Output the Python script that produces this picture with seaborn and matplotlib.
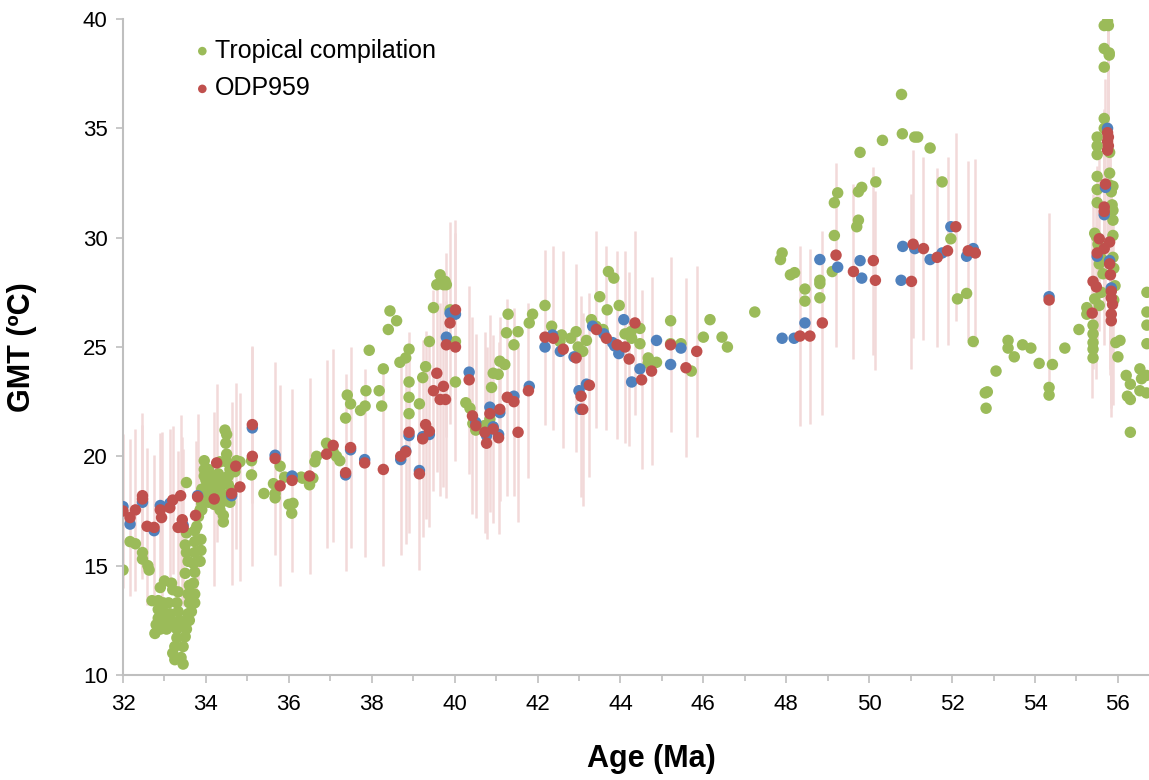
import matplotlib.pyplot as plt
import numpy as np
import seaborn as sb
from matplotlib.ticker import MultipleLocator

# Tropical compilation (green)
trop_age = [
    32.0, 32.17, 32.3, 32.47, 32.47, 32.6, 32.63,
    33.0, 33.17, 32.9, 33.2, 33.33, 32.7, 32.85, 32.97, 33.1, 33.3,
    32.85, 32.97, 33.13, 33.33, 32.85, 33.0, 33.17, 33.37,
    32.8, 32.93, 33.1, 33.25, 33.4, 32.77, 32.9, 33.05, 33.3, 33.53,
    33.3, 33.5, 33.25, 33.45, 33.2, 33.4, 33.25, 33.45,
    33.53, 33.73, 33.5, 33.73, 33.53, 33.73, 33.57, 33.7, 33.5, 33.73,
    33.6, 33.7, 33.57, 33.73, 33.6, 33.73, 33.57, 33.65, 33.53, 33.6, 33.53,
    33.96, 33.96, 33.96, 33.9, 33.98, 33.9, 33.9, 33.82, 33.78, 33.88, 33.88, 33.86,
    34.46, 34.5, 34.48, 34.5, 34.34, 34.5, 34.58, 34.74, 34.82,
    34.06, 34.14, 34.3, 34.38, 34.54, 34.7,
    34.0, 34.06, 34.2, 34.34, 34.54, 34.62,
    33.94, 34.14, 34.3, 34.42, 34.58,
    33.9, 34.06, 34.2, 34.38, 34.58,
    33.86, 34.34, 34.42, 34.42,
    35.1, 35.1, 35.4, 35.63, 35.79, 35.9, 35.67, 35.67, 36.0, 36.1, 36.07, 36.3,
    36.33, 36.5, 36.58, 36.63, 36.67, 36.91, 36.95, 37.07, 37.15, 37.23,
    37.37, 37.41, 37.49, 37.73, 37.84, 37.86, 37.94, 38.18, 38.24, 38.28,
    38.4, 38.44, 38.6, 38.68, 38.82, 38.9, 38.9, 38.9, 38.9, 39.15,
    39.23, 39.3, 39.39, 39.49, 39.57, 39.65, 39.73, 39.77, 39.8, 39.89,
    40.02, 40.02, 40.27, 40.37, 40.44, 40.51, 40.71, 40.85, 40.89, 40.93,
    41.05, 41.09, 41.21, 41.25, 41.29, 41.43, 41.53,
    41.8, 41.88, 42.18, 42.34, 42.58, 42.54, 42.8, 42.93, 42.98, 43.09,
    43.18, 43.3, 43.41, 43.58, 43.5, 43.68, 43.71, 43.84, 43.97, 44.11,
    44.25, 44.27, 44.47, 44.47, 44.67, 44.67, 44.87, 45.21, 45.21, 45.46,
    45.71, 46.0, 46.16, 46.45, 46.58, 47.24,
    47.86, 47.9, 48.1, 48.2, 48.45, 48.45, 48.81, 48.81, 48.81, 49.11,
    49.16, 49.16, 49.24, 49.7, 49.74, 49.74, 49.82, 49.78, 50.16, 50.32,
    50.78, 50.8, 51.1, 51.17, 51.47, 51.76, 51.97, 52.13, 52.35, 52.51,
    52.8, 52.85, 52.82, 53.06, 53.35, 53.35, 53.5, 53.7, 53.9, 54.1,
    54.34, 54.34, 54.42, 54.72, 55.06, 55.25, 55.25,
    55.4, 55.4, 55.4, 55.4, 55.4, 55.44, 55.44, 55.48, 55.5, 55.5,
    55.5, 55.5, 55.5, 55.5, 55.64, 55.6, 55.67, 55.67, 55.67, 55.67,
    55.79, 55.79, 55.67, 55.75, 55.77, 55.8, 55.8, 55.8, 55.84, 55.88,
    55.86, 55.88, 55.88, 55.88, 55.88, 55.9, 55.95, 56.05, 56.0,
    55.52, 55.55, 55.9, 55.93, 55.6, 55.55,
    56.2, 56.3, 56.23, 56.3, 56.3, 56.53, 56.57, 56.69, 56.69, 56.53,
    56.7, 56.7, 56.7, 56.7,
]
trop_gmt = [
    14.8, 16.1, 16.0, 15.6, 15.3, 15.0, 14.8,
    14.3, 14.2, 14.0, 13.9, 13.8, 13.4, 13.4, 13.3, 13.3, 13.3,
    13.0, 12.9, 12.8, 12.9, 12.6, 12.5, 12.5, 12.5,
    12.3, 12.2, 12.3, 12.2, 12.4, 11.9, 12.1, 12.1, 12.1, 12.1,
    11.7, 11.75, 11.3, 11.3, 11.0, 10.8, 10.7, 10.5,
    16.5, 16.6, 15.95, 16.1, 15.6, 15.6, 15.2, 15.1, 14.65, 14.7,
    14.1, 14.2, 13.7, 13.7, 13.3, 13.3, 12.8, 12.9, 12.4, 12.5, 18.8,
    19.8, 19.4, 19.1, 18.5, 18.15, 17.85, 17.55, 17.25, 16.8, 16.2, 15.7, 15.2,
    21.2, 21.0, 20.6, 20.1, 19.75, 19.75, 19.4, 19.8, 19.75,
    19.4, 19.15, 19.2, 19.0, 19.1, 19.3,
    18.9, 18.7, 18.85, 18.6, 18.7, 18.45,
    18.45, 18.4, 18.3, 18.25, 18.15,
    18.0, 17.9, 17.8, 17.9, 17.9,
    17.55, 17.55, 17.3, 17.0,
    19.8, 19.15, 18.3, 18.75, 19.55, 19.05, 18.3, 18.1, 17.8, 17.85, 17.4, 19.05,
    19.0, 18.7, 19.0, 19.75, 20.0, 20.6, 20.5, 20.2, 20.0, 19.8,
    21.75, 22.8, 22.4, 22.1, 22.3, 23.0, 24.85, 23.0, 22.3, 24.0,
    25.8, 26.65, 26.2, 24.3, 24.5, 24.9, 23.4, 22.7, 21.95, 22.4,
    23.6, 24.1, 25.25, 26.8, 27.85, 28.3, 27.85, 28.0, 27.85, 26.7,
    25.25, 23.4, 22.45, 22.2, 21.5, 21.2, 21.4, 21.7, 23.15, 23.8,
    23.75, 24.35, 24.2, 25.65, 26.5, 25.1, 25.7,
    26.1, 26.5, 26.9, 25.95, 25.55, 25.25, 25.4, 25.7, 25.0, 24.8,
    25.3, 26.25, 25.95, 25.8, 27.3, 26.7, 28.45, 28.15, 26.9, 25.6,
    25.7, 25.4, 25.85, 25.15, 24.5, 24.25, 24.3, 26.2, 25.15, 25.15,
    23.9, 25.45, 26.25, 25.45, 25.0, 26.6,
    29.0, 29.3, 28.3, 28.4, 27.65, 27.1, 28.05, 27.9, 27.25, 28.45,
    30.1, 31.6, 32.05, 30.5, 30.8, 32.1, 32.3, 33.9, 32.55, 34.45,
    36.55, 34.75, 34.6, 34.6, 34.1, 32.55, 29.95, 27.2, 27.45, 25.25,
    22.9, 22.95, 22.2, 23.9, 25.3, 24.95, 24.55, 25.1, 24.95, 24.25,
    23.15, 22.8, 24.2, 24.95, 25.8, 26.8, 26.5,
    26.0, 25.6, 25.2, 24.9, 24.5, 27.2, 30.2, 30.05, 31.6, 32.8,
    32.2, 34.6, 34.2, 33.8, 28.35, 29.05, 35.45, 35.0, 37.8, 38.65,
    38.45, 38.35, 39.7, 39.9, 39.7, 33.9, 32.95, 32.4, 32.1, 32.35,
    31.5, 31.25, 30.8, 30.1, 29.1, 27.15, 25.2, 25.3, 24.55,
    29.7, 28.8, 28.6, 27.8, 27.5, 26.9,
    23.7, 23.3, 22.75, 22.6, 21.1, 24.0, 23.55, 23.7, 22.9, 23.0,
    27.5, 26.6, 26.0, 25.15,
]

# ODP959 (red) with its uncertainty
odp_age = [
    32.0, 32.17, 32.3, 32.47, 32.47, 32.58, 32.75, 32.9, 32.93, 33.13,
    33.2, 33.39, 33.43, 33.33, 33.45, 33.75, 33.8, 34.2, 34.26, 34.62,
    34.72, 34.82, 35.12, 35.12, 35.67, 35.79, 36.08, 36.5, 36.91, 37.07,
    37.37, 37.49, 37.83, 38.28, 38.7, 38.82, 38.9, 39.15, 39.23, 39.3,
    39.39, 39.49, 39.57, 39.65, 39.73, 39.78, 39.8, 39.89, 40.02, 40.02,
    40.35, 40.43, 40.51, 40.73, 40.77, 40.85, 40.93, 41.06, 41.09, 41.27,
    41.43, 41.53, 41.78, 42.18, 42.38, 42.62, 42.93, 43.05, 43.09, 43.25,
    43.42, 43.66, 43.92, 44.11, 44.21, 44.35, 44.51, 44.75, 45.21, 45.58,
    45.84, 48.33, 48.57, 48.87, 49.2, 49.62, 50.1, 50.15, 51.02, 51.06,
    51.31, 51.64, 51.89, 52.09, 52.39, 52.56, 54.34,
    55.75, 55.77, 55.75, 55.77, 55.75, 55.7, 55.67, 55.67, 55.55, 55.8,
    55.67, 55.5, 55.8, 55.82, 55.4, 55.48, 55.84, 55.84, 55.87, 55.38,
    55.84, 55.84,
]
odp_gmt = [
    17.5, 17.2, 17.55, 18.2, 18.05, 16.8, 16.75, 17.55, 17.2, 17.65,
    18.0, 18.2, 17.1, 16.75, 16.75, 17.3, 18.15, 18.05, 19.7, 18.3,
    19.55, 18.6, 21.45, 20.0, 19.9, 18.65, 18.9, 19.1, 20.1, 20.5,
    19.25, 20.4, 19.7, 19.4, 20.0, 20.2, 21.1, 19.2, 20.8, 21.45,
    21.15, 23.0, 23.8, 22.6, 23.2, 22.6, 25.1, 26.1, 26.7, 25.0,
    23.5, 21.85, 21.4, 21.1, 20.6, 21.95, 21.25, 20.85, 22.15, 22.7,
    22.5, 21.1, 23.0, 25.45, 25.4, 24.9, 24.5, 22.75, 22.15, 23.25,
    25.8, 25.4, 25.1, 25.0, 24.45, 26.1, 23.5, 23.9, 25.1, 24.05,
    24.8, 25.5, 25.5, 26.1, 29.2, 28.45, 28.95, 28.05, 28.0, 29.7,
    29.5, 29.1, 29.4, 30.5, 29.4, 29.3, 27.15,
    34.8, 34.6, 34.4, 34.2, 34.0, 32.45, 31.4, 31.2, 29.95, 29.8,
    29.5, 29.3, 28.8, 28.3, 28.0, 27.75, 27.55, 27.25, 26.95, 26.55,
    26.5, 26.2,
]
odp_err = [
    3.5, 3.6, 3.7, 3.8, 3.4, 3.6, 3.3, 3.5, 3.9, 3.6,
    3.4, 3.7, 3.8, 3.5, 3.6, 3.4, 3.8, 4.0, 3.6, 4.2,
    3.8, 4.3, 3.6, 5.0, 4.4, 4.6, 4.2, 4.5, 4.3, 4.4,
    4.5, 4.6, 4.3, 4.4, 4.5, 4.2, 4.6, 4.4, 4.5, 4.3,
    4.4, 4.6, 4.5, 4.4, 4.6, 4.5, 4.2, 4.6, 4.1, 5.2,
    4.3, 4.5, 4.2, 4.6, 4.4, 4.5, 4.3, 4.4, 4.2, 4.5,
    4.3, 4.1, 4.0, 4.0, 4.2, 4.5, 4.3, 4.6, 4.4, 4.2,
    4.5, 4.2, 4.3, 4.4, 4.0, 4.2, 4.1, 4.3, 4.0, 4.1,
    3.9, 4.1, 4.0, 4.2, 4.2, 4.0, 4.3, 4.1, 4.0, 4.3,
    4.2, 4.1, 4.3, 4.3, 4.1, 4.3, 4.0,
    5.5, 5.3, 5.6, 5.2, 5.8, 4.8, 4.5, 4.6, 4.2, 5.0,
    4.4, 4.0, 4.8, 4.6, 4.0, 4.2, 4.5, 4.8, 4.6, 3.9,
    4.3, 4.4,
]

# ODP959 alternative (blue, not in legend)
alt_age = [
    32.0, 32.17, 32.47, 32.75, 32.9, 33.13, 33.45, 33.8, 34.62, 35.12,
    35.67, 36.08, 37.37, 37.49, 37.83, 38.7, 38.82, 38.9, 39.15, 39.23,
    39.39, 39.8, 39.89, 40.02, 40.35, 40.51, 40.77, 40.85, 40.93, 41.06,
    41.09, 41.43, 41.8, 42.18, 42.36, 42.55, 42.88, 43.0, 43.03, 43.18,
    43.33, 43.6, 43.81, 43.86, 43.96, 44.08, 44.27, 44.47, 44.87, 45.21,
    45.46, 47.9, 48.19, 48.45, 48.81, 49.24, 49.78, 49.82, 50.77, 50.81,
    51.1, 51.47, 51.76, 51.97, 52.35, 52.51, 54.34,
    55.75, 55.7, 55.67, 55.5, 55.8, 55.84,
]
alt_gmt = [
    17.7, 16.9, 17.9, 16.6, 17.75, 17.85, 16.85, 18.2, 18.2, 21.3,
    20.05, 19.1, 19.15, 20.3, 19.85, 19.85, 20.25, 20.95, 19.35, 20.9,
    21.0, 25.45, 26.55, 26.5, 23.85, 21.55, 20.95, 22.25, 21.35, 21.0,
    22.0, 22.75, 23.2, 25.0, 25.55, 24.8, 24.55, 23.0, 22.15, 23.3,
    25.95, 25.6, 25.2, 25.05, 24.7, 26.25, 23.4, 24.0, 25.3, 24.2,
    24.95, 25.4, 25.4, 26.1, 29.0, 28.65, 28.95, 28.15, 28.05, 29.6,
    29.5, 29.0, 29.3, 30.5, 29.15, 29.5, 27.3,
    35.0, 32.3, 31.05, 29.15, 28.95, 27.7,
]

GREEN = "#9BBB59"
RED = "#C0504D"
BLUE = "#4F81BD"
GREY = "#BFBFBF"

if __name__ == "__main__":
    sb.set_style("white")
    plt.rcParams["font.family"] = ["Liberation Sans", "DejaVu Sans"]
    plt.rcParams["text.color"] = "black"
    plt.rcParams["axes.labelcolor"] = "black"

    fig = plt.figure(figsize=(11.49, 7.8), dpi=100)
    ax = fig.add_axes([123 / 1149, 105 / 780, 1026 / 1149, 656 / 780])

    odp_age_a = np.array(odp_age)
    odp_gmt_a = np.array(odp_gmt)
    odp_err_a = np.array(odp_err)
    ax.vlines(odp_age_a, odp_gmt_a - odp_err_a, odp_gmt_a + odp_err_a,
              color="#F2D9D9", lw=1.8, zorder=1)

    sb.scatterplot(x=trop_age, y=trop_gmt, color=GREEN, s=68, edgecolor="none",
                   label="Tropical compilation", ax=ax, zorder=2)
    sb.scatterplot(x=alt_age, y=alt_gmt, color=BLUE, s=68, edgecolor="none",
                   legend=False, ax=ax, zorder=3)
    sb.scatterplot(x=odp_age, y=odp_gmt, color=RED, s=68, edgecolor="none",
                   label="ODP959", ax=ax, zorder=4)

    ax.set_xlim(32, 56.75)
    ax.set_ylim(10, 40)
    ax.xaxis.set_major_locator(MultipleLocator(2))
    ax.xaxis.set_minor_locator(MultipleLocator(1))
    ax.yaxis.set_major_locator(MultipleLocator(5))

    for side in ["top", "right"]:
        ax.spines[side].set_visible(False)
    for side in ["left", "bottom"]:
        ax.spines[side].set_color(GREY)
        ax.spines[side].set_linewidth(1.5)

    ax.tick_params(axis="x", which="major", direction="out", length=6, width=1.2,
                   color=GREY, labelcolor="black", labelsize=16, pad=8, bottom=True)
    ax.tick_params(axis="x", which="minor", direction="out", length=4, width=1.2,
                   color=GREY, bottom=True)
    ax.tick_params(axis="y", which="major", direction="out", length=5, width=1.2,
                   color=GREY, labelcolor="black", labelsize=16, pad=6, left=True)

    ax.set_xlabel("Age (Ma)", fontsize=22, fontweight="bold")
    ax.set_ylabel("GMT (ºC)", fontsize=22, fontweight="bold")
    ax.xaxis.set_label_coords(0.515, -0.105)
    ax.yaxis.set_label_coords(-0.084, 0.5)

    ax.legend(loc="upper left", bbox_to_anchor=(0.07, 0.97), frameon=False,
              fontsize=18, handlelength=0.6, handletextpad=0.2, labelspacing=0.55,
              borderpad=0, borderaxespad=0, markerscale=0.75)

    fig.savefig("out.png", dpi=100)
